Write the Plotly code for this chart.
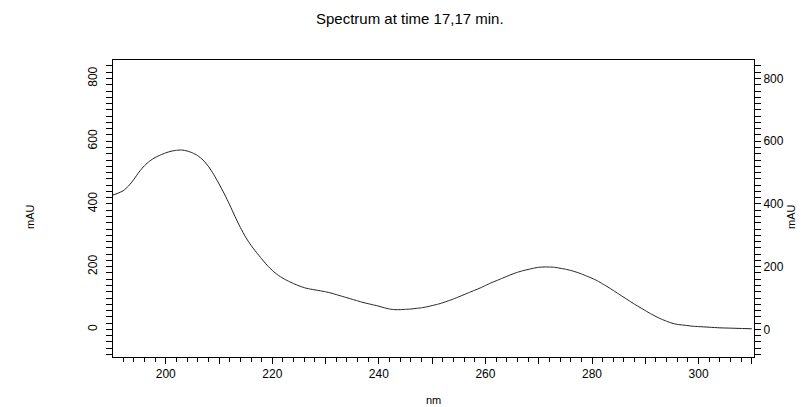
import plotly.graph_objects as go

# Wavelength (nm) and absorbance (mAU)
wavelength = [190, 191, 192, 193, 194, 195, 196, 197, 198, 199, 200, 201, 202, 203, 204, 205,
              206, 207, 208, 209, 210, 211, 212, 213, 214, 215, 216, 217, 218, 219, 220, 221,
              222, 223, 224, 225, 226, 227, 228, 229, 230, 231, 232, 233, 234, 235, 236, 237,
              238, 239, 240, 241, 242, 243, 244, 245, 246, 247, 248, 249, 250, 251, 252, 253,
              254, 255, 256, 257, 258, 259, 260, 261, 262, 263, 264, 265, 266, 267, 268, 269,
              270, 271, 272, 273, 274, 275, 276, 277, 278, 279, 280, 281, 282, 283, 284, 285,
              286, 287, 288, 289, 290, 291, 292, 293, 294, 295, 296, 297, 298, 299, 300, 302,
              304, 306, 308, 310]
absorbance = [428, 434, 442, 457, 478, 502, 522, 537, 548, 556, 563, 568, 571, 572, 569, 563,
              554, 540, 520, 494, 464, 432, 397, 360, 325, 294, 268, 246, 225, 205, 188, 174,
              163, 154, 146, 139, 133, 129, 126, 123, 120, 116, 111, 106, 101, 96, 91, 86,
              82, 78, 74, 69, 65, 63, 63, 64, 65, 67, 69, 72, 76, 80, 85, 91,
              97, 104, 111, 118, 125, 132, 140, 148, 155, 162, 169, 176, 182, 187, 191, 195,
              198, 199, 199, 198, 195, 192, 188, 183, 177, 170, 163, 155, 145, 135, 124, 113,
              102, 91, 80, 70, 60, 50, 41, 33, 26, 20, 16, 14, 12, 10, 9, 7,
              5, 4, 3, 2]

x_tickvals = list(range(190, 311, 10))
x_ticktext = [str(v) if (v % 20 == 0 and v >= 200) else "" for v in x_tickvals]
y_tickvals = [0, 200, 400, 600, 800]

title_text = "Spectrum at time 17,17 min."
x_title = "nm"
y_title = "mAU"

FONT = "Liberation Sans, Arial, sans-serif"

# page offset of 8px (body margin) is compensated by the figure size and margins
W, H = 797, 399
L, R, T, B = 105, 51, 52, 50
PW, PH = W - L - R, H - T - B

fig = go.Figure()
fig.add_trace(go.Scatter(x=wavelength, y=absorbance, mode="lines",
                         line=dict(color="#202020", width=1, shape="spline", smoothing=0.6),
                         hoverinfo="skip", showlegend=False))
fig.add_trace(go.Scatter(x=wavelength, y=absorbance, mode="lines", yaxis="y2",
                         line=dict(color="rgba(0,0,0,0)", width=1), hoverinfo="skip",
                         showlegend=False))

xr = [190.1, 310.4]
yr = [-88, 859]

fig.update_layout(
    width=W, height=H,
    margin=dict(l=L, r=R, t=T, b=B),
    paper_bgcolor="white", plot_bgcolor="white",
    font=dict(family=FONT, size=12, color="black"),
    xaxis=dict(range=xr, showgrid=False, zeroline=False, showline=True, linecolor="black",
               linewidth=1, mirror=True, ticks="outside", ticklen=6, tickcolor="black",
               tickvals=x_tickvals, ticktext=x_ticktext, tickfont=dict(size=12),
               minor=dict(ticks="outside", dtick=2, ticklen=4, tickcolor="black")),
    yaxis=dict(range=yr, showgrid=False, zeroline=False, showline=True, linecolor="black",
               linewidth=1, ticks="outside", ticklen=6, tickcolor="black",
               tickvals=y_tickvals, tickangle=-90, tickfont=dict(size=12),
               ticklabelstandoff=4,
               minor=dict(ticks="outside", dtick=20, ticklen=6, tickcolor="black")),
    yaxis2=dict(range=yr, overlaying="y", side="right", showgrid=False, zeroline=False,
                showline=True, linecolor="black", linewidth=1, ticks="outside", ticklen=6,
                tickcolor="black", tickvals=y_tickvals, tickfont=dict(size=12),
                minor=dict(ticks="outside", dtick=20, ticklen=6, tickcolor="black")),
    annotations=[
        dict(text=title_text, xref="paper", yref="paper", x=(402 - L) / PW, y=1,
             yshift=(T - 10), showarrow=False, font=dict(size=15), xanchor="center",
             yanchor="middle"),
        dict(text=x_title, xref="paper", yref="paper", x=(425 - L) / PW, y=0,
             yshift=-43, showarrow=False, font=dict(size=11), xanchor="center",
             yanchor="middle"),
        dict(text=y_title, xref="paper", yref="paper", x=0, xshift=-(L - 22), y=(H - B - 209) / PH,
             showarrow=False, textangle=-90, font=dict(size=11), xanchor="center",
             yanchor="middle"),
        dict(text=y_title, xref="paper", yref="paper", x=1, xshift=37, y=(H - B - 209) / PH,
             showarrow=False, textangle=-90, font=dict(size=11), xanchor="center",
             yanchor="middle"),
    ],
)

fig.write_html("out.html")
